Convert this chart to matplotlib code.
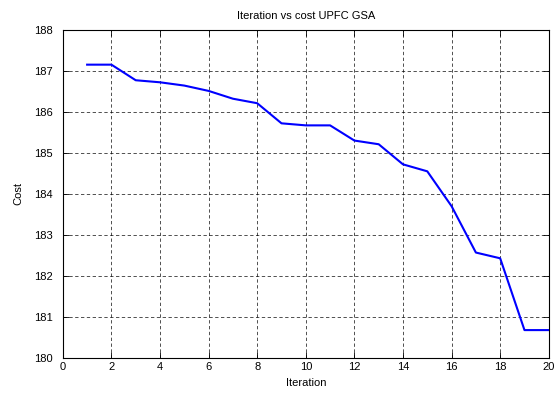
import matplotlib
matplotlib.use('Agg')
import matplotlib.pyplot as plt

iterations = list(range(1, 21))
cost = [187.15, 187.15, 186.77, 186.72, 186.64, 186.51, 186.32, 186.21, 185.72, 185.67,
        185.67, 185.30, 185.21, 184.72, 184.55, 183.70, 182.57, 182.43, 180.68, 180.68]
x_ticks = list(range(0, 21, 2))
y_ticks = list(range(180, 189))

plt.rcParams['font.family'] = ['Liberation Sans', 'DejaVu Sans']

fig = plt.figure(figsize=(5.56, 3.94), dpi=100)
ax = fig.add_axes([0.113, 0.0914, 0.874, 0.833])

ax.plot(iterations, cost, color='#0000ff', linewidth=1.5)

ax.set_xlim(0, 20)
ax.set_ylim(180, 188)
ax.set_xticks(x_ticks)
ax.set_yticks(y_ticks)
ax.tick_params(direction='in', top=True, right=True, labelsize=8, length=4, width=0.6)
ax.tick_params(axis='x', pad=3)
ax.tick_params(axis='y', pad=7)
ax.grid(True, color='black', linestyle=(0, (4, 3)), linewidth=0.6, alpha=0.8)
for s in ax.spines.values():
    s.set_linewidth(0.8)

ax.set_title('Iteration vs cost UPFC GSA', fontsize=8, pad=8)
ax.set_xlabel('Iteration', fontsize=8, labelpad=4)
ax.set_ylabel('Cost', fontsize=8, labelpad=8)

fig.savefig('out.png', dpi=100)
